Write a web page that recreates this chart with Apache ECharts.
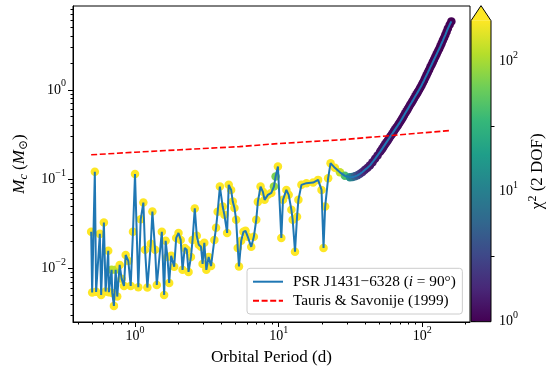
<!DOCTYPE html>
<html>
<head>
<meta charset="utf-8">
<script src="https://cdn.jsdelivr.net/npm/echarts@6/dist/echarts.min.js"></script>
<style>
  html, body { margin: 0; padding: 0; background: #fff; }
  #chart { width: 548px; height: 367px; }
</style>
</head>
<body>
<div id="chart"></div>
<script>
const FONT = '"Liberation Serif", "DejaVu Serif", serif';

// orbital period (d), companion mass (Msun), chi^2 for each grid point
const periods = [
  0.495, 0.503, 0.525, 0.536, 0.569, 0.581, 0.607, 0.624, 0.651, 0.658,
  0.687, 0.694, 0.713, 0.733, 0.752, 0.782, 0.807, 0.838, 0.861, 0.898,
  0.933, 0.968, 1.000, 1.054, 1.096, 1.143, 1.175, 1.219, 1.288, 1.321,
  1.380, 1.418, 1.537, 1.595, 1.634, 1.682, 1.729, 1.785, 1.874, 1.935,
  2.008, 2.080, 2.142, 2.219, 2.292, 2.359, 2.452, 2.516, 2.607, 2.692,
  2.780, 2.880, 2.955, 3.037, 3.137, 3.256, 3.384, 3.568, 3.667, 3.763,
  3.899, 4.077, 4.191, 4.378, 4.492, 4.670, 4.792, 4.925, 5.061, 5.193,
  5.295, 5.486, 5.692, 5.879, 6.101, 6.444, 6.720, 6.985, 7.167, 7.485,
  7.768, 7.983, 8.418, 8.892, 9.272, 9.528, 9.888, 10.44, 10.72, 11.32,
  11.75, 12.27, 12.53, 13.00, 13.43, 13.73, 14.41, 15.62, 17.38, 18.83,
  19.89, 20.54, 21.08, 22.12, 22.99,
  24.64, 26.71, 28.94, 31.37, 32.66, 34.00, 35.40, 36.85, 38.36, 39.94,
  41.58, 43.29, 45.06, 46.93, 48.85,
  50.86, 51.88, 52.95, 54.01, 55.12, 56.23, 57.38, 58.54, 59.74, 60.95,
  62.20, 63.45, 64.75, 66.06, 67.42, 68.77, 70.18, 71.60, 73.05, 74.54,
  76.06, 77.60, 79.18, 80.78, 82.44,
  84.13, 85.82, 87.58, 89.35, 91.18, 93.01, 94.90, 96.83, 98.80, 100.8,
  102.9, 104.9, 107.1, 109.3, 111.5, 113.7, 116.1, 118.4, 120.8, 123.3,
  125.8, 128.3, 131.0, 133.6, 136.3, 139.1, 141.9, 144.8, 147.8, 150.8,
  155.1, 159.5
];
const masses = [
  0.0256, 0.00534, 0.121, 0.00544, 0.0243, 0.00503, 0.0325, 0.00548, 0.0157, 0.00540,
  0.00960, 0.00530, 0.00379, 0.00960, 0.00482, 0.0109, 0.00761, 0.00635, 0.0141, 0.0121,
  0.00635, 0.0256, 0.114, 0.00614, 0.0355, 0.0545, 0.0161, 0.00608, 0.0188, 0.0432,
  0.0161, 0.00651, 0.0256, 0.00503, 0.0203, 0.0134, 0.00686, 0.0138, 0.0104, 0.0219,
  0.0249, 0.0208, 0.00960, 0.0169, 0.0161, 0.00911, 0.0134, 0.0208, 0.0469, 0.0231,
  0.0183, 0.0174, 0.0112, 0.0193, 0.00960, 0.0134, 0.0106, 0.0208, 0.0284, 0.0429,
  0.0824, 0.0492, 0.0397, 0.0249, 0.0861, 0.0756, 0.0559, 0.0475, 0.0349, 0.0169,
  0.0105, 0.0203, 0.0256, 0.0263, 0.0225, 0.0174, 0.0225, 0.0349, 0.0555, 0.0824,
  0.0719, 0.0585, 0.0665, 0.0700, 0.0824, 0.1067, 0.1381, 0.0219, 0.0585, 0.0756,
  0.0665, 0.0452, 0.0349, 0.0153, 0.0377, 0.0585, 0.0861, 0.0900, 0.0914, 0.0979,
  0.0756, 0.0169, 0.0492, 0.1023, 0.1507,
  0.1335, 0.1189, 0.1086, 0.1045, 0.1053, 0.1072, 0.1100, 0.1144, 0.1198, 0.1268,
  0.1339, 0.1424, 0.1543, 0.1685, 0.1839,
  0.2018, 0.2117, 0.2220, 0.2332, 0.2449, 0.2569, 0.2694, 0.2830, 0.2972, 0.3117,
  0.3270, 0.3435, 0.3607, 0.3784, 0.3969, 0.4169, 0.4378, 0.4623, 0.4880, 0.5158,
  0.5452, 0.5755, 0.6076, 0.6424, 0.6788,
  0.7168, 0.7567, 0.8000, 0.8455, 0.8926, 0.9424, 0.9961, 1.053, 1.120, 1.195,
  1.274, 1.363, 1.458, 1.559, 1.669, 1.787, 1.912, 2.044, 2.189, 2.344,
  2.507, 2.681, 2.871, 3.074, 3.308, 3.561, 3.838, 4.136, 4.481, 4.856,
  5.355, 5.85
];
const chi2 = [
  250, 250, 250, 250, 250, 250, 250, 250, 250, 250,
  120, 250, 250, 120, 250, 250, 250, 250, 250, 250,
  250, 250, 250, 250, 250, 250, 250, 250, 250, 250,
  250, 250, 250, 250, 250, 250, 250, 250, 250, 250,
  250, 250, 250, 250, 250, 250, 250, 250, 250, 250,
  250, 250, 250, 250, 250, 250, 250, 250, 250, 250,
  250, 250, 250, 250, 250, 250, 250, 250, 250, 250,
  250, 250, 250, 250, 250, 250, 250, 250, 250, 250,
  250, 250, 250, 250, 90, 70, 250, 250, 250, 250,
  250, 250, 250, 250, 250, 250, 250, 250, 250, 250,
  250, 250, 250, 250, 250,
  230, 130, 45, 14, 9, 5.5, 3.8, 2.7, 2.0, 1.6,
  1.45, 1.4, 1.35, 1.3, 1.3,
  1.25, 1.25, 1.25, 1.22, 1.2, 1.2, 1.2, 1.2, 1.2, 1.17,
  1.15, 1.15, 1.15, 1.15, 1.15, 1.12, 1.1, 1.1, 1.1, 1.1,
  1.1, 1.1, 1.1, 1.1, 1.1,
  1.1, 1.08, 1.08, 1.08, 1.08, 1.06, 1.06, 1.06, 1.06, 1.05,
  1.05, 1.05, 1.05, 1.04, 1.04, 1.04, 1.04, 1.03, 1.03, 1.03,
  1.03, 1.02, 1.02, 1.02, 1.02, 1.01, 1.01, 1.01, 1.01, 1.01,
  1.0, 1.0
];

// Tauris & Savonije (1999) relation
const tsPeriods = [0.495, 1.0, 5.34, 10.0, 26.7, 157.0];
const tsMasses = [0.187, 0.200, 0.231, 0.250, 0.275, 0.350];

const xMajorTicks = [1, 10, 100];
const xMinorTicks = [0.4, 0.5, 0.6, 0.7, 0.8, 0.9, 2, 3, 4, 5, 6, 7, 8, 9,
  20, 30, 40, 50, 60, 70, 80, 90, 200];
const yMajorTicks = [0.01, 0.1, 1];
const yMinorTicks = [0.003, 0.004, 0.005, 0.006, 0.007, 0.008, 0.009,
  0.02, 0.03, 0.04, 0.05, 0.06, 0.07, 0.08, 0.09,
  0.2, 0.3, 0.4, 0.5, 0.6, 0.7, 0.8, 0.9, 2, 3, 4, 5, 6, 7, 8];
const cbMajorTicks = [1, 10, 100];
const cbMinorTicks = [3.162, 31.62];
const cbRange = [1, 205];

const viridis = ['#440154', '#482878', '#3e4989', '#31688e', '#26828e',
  '#1f9e89', '#35b779', '#6ece58', '#b5de2b', '#fde725'];

const nameLine = 'PSR J1431\u22126328 (i = 90\u00b0)';
const nameTS = 'Tauris & Savonije (1999)';

const pointData = periods.map((p, i) => [p, masses[i], chi2[i], Math.log10(chi2[i])]);
const lineData = periods.map((p, i) => [p, masses[i]]);
const tsData = tsPeriods.map((p, i) => [p, tsMasses[i]]);

function powLabel(v) {
  const e = Math.round(Math.log10(v));
  return '{b|10}{s|' + (e < 0 ? '\u2212' + (-e) : e) + '}';
}
const powRich = {
  b: { fontFamily: FONT, fontSize: 14, lineHeight: 22, color: '#000' },
  s: { fontFamily: FONT, fontSize: 10, lineHeight: 10, verticalAlign: 'top', color: '#000' }
};
const black = { color: '#000', width: 1 };

const chart = echarts.init(document.getElementById('chart'), null, { renderer: 'canvas' });

chart.setOption({
  backgroundColor: '#fff',
  animation: false,
  grid: [
    { left: 73, top: 6, width: 397, height: 316, show: true, borderColor: '#000', borderWidth: 1,
      outerBoundsMode: 'none' },
    { left: 471, top: 20.7, width: 20, height: 301, outerBoundsMode: 'none' }
  ],
  xAxis: [
    {
      type: 'log', gridIndex: 0, min: 0.37, max: 215, position: 'bottom',
      name: 'Orbital Period (d)', nameLocation: 'middle', nameGap: 27,
      nameTextStyle: { fontFamily: FONT, fontSize: 17, color: '#000' },
      axisLine: { show: true, onZero: false, lineStyle: black },
      axisTick: { show: true, inside: false, length: 5, customValues: xMajorTicks, lineStyle: black },
      axisLabel: { customValues: xMajorTicks, formatter: powLabel, rich: powRich, margin: 3 },
      splitLine: { show: false }
    },
    {
      type: 'log', gridIndex: 0, min: 0.37, max: 215, position: 'bottom',
      axisLine: { show: false },
      axisTick: { show: true, inside: false, length: 2.5, customValues: xMinorTicks, lineStyle: black },
      axisLabel: { show: false },
      splitLine: { show: false }
    },
    { type: 'value', gridIndex: 1, min: 0, max: 1, show: false }
  ],
  yAxis: [
    {
      type: 'log', gridIndex: 0, min: 0.0025, max: 8.7, position: 'left',
      name: '{i|M}{si|c}{r| (}{i|M}{sub|\u2299}{r|)}', nameLocation: 'middle', nameGap: 43, nameRotate: 90,
      nameTextStyle: {
        fontFamily: FONT, fontSize: 17, color: '#000',
        rich: {
          i: { fontFamily: FONT, fontSize: 17, fontStyle: 'italic', lineHeight: 20, color: '#000' },
          r: { fontFamily: FONT, fontSize: 17, lineHeight: 20, color: '#000' },
          si: { fontFamily: FONT, fontSize: 12, fontStyle: 'italic', lineHeight: 12, verticalAlign: 'bottom', color: '#000' },
          sub: { fontFamily: FONT, fontSize: 12, lineHeight: 12, verticalAlign: 'bottom', color: '#000' }
        }
      },
      axisLine: { show: true, onZero: false, lineStyle: black },
      axisTick: { show: true, inside: false, length: 5, customValues: yMajorTicks, lineStyle: black },
      axisLabel: { customValues: yMajorTicks, formatter: powLabel, rich: powRich, margin: 7 },
      splitLine: { show: false }
    },
    {
      type: 'log', gridIndex: 0, min: 0.0025, max: 8.7, position: 'left',
      axisLine: { show: false },
      axisTick: { show: true, inside: false, length: 2.5, customValues: yMinorTicks, lineStyle: black },
      axisLabel: { show: false },
      splitLine: { show: false }
    },
    {
      type: 'log', gridIndex: 1, min: cbRange[0], max: cbRange[1], position: 'right',
      name: '{c|\u03c7}{s|2}{r| (2 DOF)}', nameLocation: 'middle', nameGap: 36, nameRotate: 90,
      nameTextStyle: {
        fontFamily: FONT, fontSize: 17, color: '#000',
        rich: {
          c: { fontFamily: FONT, fontSize: 17, lineHeight: 22, color: '#000' },
          r: { fontFamily: FONT, fontSize: 17, lineHeight: 22, color: '#000' },
          s: { fontFamily: FONT, fontSize: 12, lineHeight: 12, verticalAlign: 'top', color: '#000' }
        }
      },
      axisLine: { show: false },
      axisTick: { show: true, inside: false, length: 4.5, customValues: cbMajorTicks, lineStyle: black },
      axisLabel: { customValues: cbMajorTicks, formatter: powLabel, rich: powRich, margin: 8 },
      splitLine: { show: false }
    },
    {
      type: 'log', gridIndex: 1, min: cbRange[0], max: cbRange[1], position: 'right',
      axisLine: { show: false },
      axisTick: { show: true, inside: false, length: 3.5, customValues: cbMinorTicks, lineStyle: black },
      axisLabel: { show: false },
      splitLine: { show: false }
    }
  ],
  visualMap: [{
    type: 'continuous', show: false, seriesIndex: 0, dimension: 3,
    min: 0, max: Math.log10(cbRange[1]),
    inRange: { color: viridis }, outOfRange: { color: '#fde725' }
  }],
  legend: {
    data: [nameLine, nameTS],
    orient: 'vertical', left: 247, top: 268.3,
    padding: [5.4, 6.6, 5.3, 5],
    itemWidth: 30, itemHeight: 12, itemGap: 3,
    itemStyle: { opacity: 0 },
    backgroundColor: 'rgba(255,255,255,0.8)', borderColor: '#cccccc', borderWidth: 1, borderRadius: 3,
    textStyle: {
      fontFamily: FONT, fontSize: 15.3, color: '#000', lineHeight: 16,
      rich: {
        p: { fontFamily: FONT, fontSize: 15.3, lineHeight: 16, padding: [0, 0, 0, 5], color: '#000' },
        n: { fontFamily: FONT, fontSize: 15.3, lineHeight: 16, color: '#000' },
        i: { fontFamily: FONT, fontSize: 15.3, lineHeight: 16, fontStyle: 'italic', color: '#000' }
      }
    },
    formatter: function (name) {
      if (name === nameLine) return '{p|PSR J1431\u22126328 (}{i|i}{n| = 90\u00b0)}';
      return '{p|' + name + '}';
    }
  },
  series: [
    {
      type: 'scatter', xAxisIndex: 0, yAxisIndex: 0, data: pointData,
      symbol: 'circle', symbolSize: 8.5, z: 2,
      itemStyle: { opacity: 1 },
      encode: { x: 0, y: 1 }
    },
    {
      name: nameLine, type: 'line', xAxisIndex: 0, yAxisIndex: 0, data: lineData,
      symbol: 'none', z: 3,
      lineStyle: { color: '#1f77b4', width: 2 }, itemStyle: { color: '#1f77b4' }
    },
    {
      name: nameTS, type: 'line', xAxisIndex: 0, yAxisIndex: 0, data: tsData,
      symbol: 'none', z: 3,
      lineStyle: { color: '#ff0000', width: 1.6, type: [6, 2.6] }, itemStyle: { color: '#ff0000' }
    },
    {
      type: 'custom', xAxisIndex: 2, yAxisIndex: 2, clip: false, silent: true,
      data: [[0, cbRange[0], cbRange[1]]],
      renderItem: function (params, api) {
        const lo = api.coord([0, api.value(1)]);
        const hi = api.coord([1, api.value(2)]);
        const x0 = lo[0], x1 = hi[0], yb = lo[1], yt = hi[1];
        const tip = yt - (yb - yt) * 0.05;
        const stops = viridis.map((c, i) => ({ offset: i / (viridis.length - 1), color: c }));
        return {
          type: 'group',
          children: [
            { type: 'rect', shape: { x: x0, y: yt, width: x1 - x0, height: yb - yt },
              style: { fill: new echarts.graphic.LinearGradient(0, 1, 0, 0, stops) } },
            { type: 'polygon', shape: { points: [[x0, yt], [x1, yt], [(x0 + x1) / 2, tip]] },
              style: { fill: '#fde725' } },
            { type: 'polygon', shape: { points: [[x0, yb], [x0, yt], [(x0 + x1) / 2, tip], [x1, yt], [x1, yb]] },
              style: { fill: 'none', stroke: '#000', lineWidth: 1 } }
          ]
        };
      }
    }
  ]
});
</script>
</body>
</html>
